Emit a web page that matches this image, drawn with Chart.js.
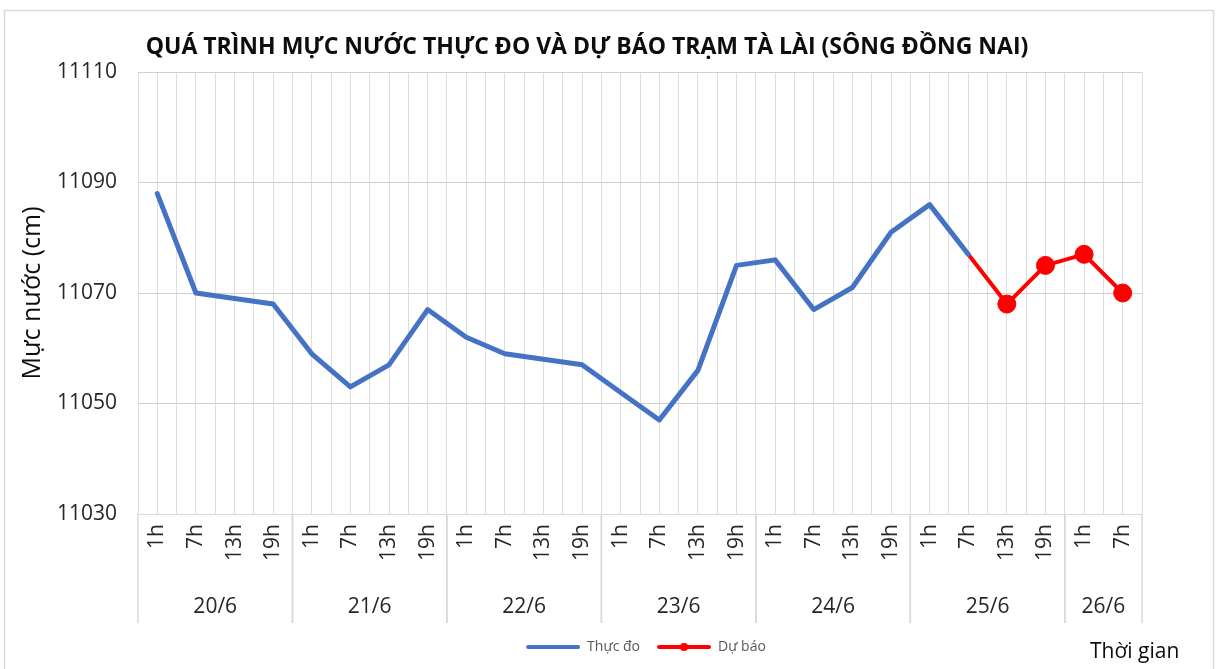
<!DOCTYPE html>
<html>
<head>
<meta charset="utf-8">
<script src="https://cdn.jsdelivr.net/npm/chart.js@4.4.0/dist/chart.umd.min.js"></script>
<style>
  html, body { margin: 0; padding: 0; background: #fff; }
</style>
</head>
<body>
<canvas id="chart" width="1217" height="669"></canvas>
<script>
const hours = ['1h', '7h', '13h', '19h', '1h', '7h', '13h', '19h', '1h', '7h', '13h', '19h',
    '1h', '7h', '13h', '19h', '1h', '7h', '13h', '19h', '1h', '7h', '13h', '19h', '1h', '7h'];
const days = ['20/6', '21/6', '22/6', '23/6', '24/6', '25/6', '26/6'];
const dayCounts = [4, 4, 4, 4, 4, 4, 2];
const measured = [11088, 11070, 11069, 11068, 11059, 11053, 11057, 11067, 11062, 11059, 11058, 11057,
    11052, 11047, 11056, 11075, 11076, 11067, 11071, 11081, 11086, 11077, null, null, null, null];
const forecast = [null, null, null, null, null, null, null, null, null, null, null, null,
    null, null, null, null, null, null, null, null, null, 11077, 11068, 11075, 11077, 11070];
const yMin = 11030, yMax = 11110, yStep = 20;

const FONT = '"Open Sans", sans-serif';
const TEXT = '#262626';
const forecastStart = forecast.findIndex(v => v !== null);

// legend sample: line (with a dot for the forecast), blank space on the left as item gap
const ICON_W = 66;
const legendIcon = (color, dot) => {
    const c = document.createElement('canvas');
    c.width = ICON_W; c.height = 12;
    const g = c.getContext('2d');
    const x0 = ICON_W - 54;
    g.strokeStyle = color; g.lineWidth = 4; g.lineCap = 'round';
    g.beginPath(); g.moveTo(x0 + 2, 6); g.lineTo(x0 + 52, 6); g.stroke();
    if (dot) { g.fillStyle = color; g.beginPath(); g.arc(x0 + 27, 6, 4, 0, Math.PI * 2); g.fill(); }
    return c;
};
const icons = [legendIcon('#4472C4', false), legendIcon('#FF0000', true)];

// frame, title, day groups under the hour labels, axis caption
const decor = {
    id: 'decor',
    beforeDraw(chart) {
        const { ctx, width, height } = chart;
        ctx.save();
        ctx.fillStyle = '#fff';
        ctx.fillRect(0, 0, width, height);
        ctx.strokeStyle = '#d9d9d9';
        ctx.lineWidth = 1.5;
        ctx.strokeRect(4.5, 10.5, 1209, height);
        ctx.restore();
    },
    afterDraw(chart) {
        const { ctx, chartArea, scales: { x } } = chart;
        const step = x.width / hours.length;
        const bottom = chartArea.bottom + 109;
        ctx.save();
        ctx.strokeStyle = '#d9d9d9';
        ctx.lineWidth = 1.5;
        ctx.fillStyle = TEXT;
        ctx.font = '21px ' + FONT;
        ctx.textAlign = 'center';
        ctx.textBaseline = 'middle';
        let start = 0;
        days.forEach((d, i) => {
            const left = x.getPixelForValue(start) - step / 2;
            const right = x.getPixelForValue(start + dayCounts[i] - 1) + step / 2;
            ctx.beginPath();
            ctx.moveTo(left, chartArea.bottom); ctx.lineTo(left, bottom);
            ctx.moveTo(right, chartArea.bottom); ctx.lineTo(right, bottom);
            ctx.stroke();
            ctx.fillText(d, (left + right) / 2, chartArea.bottom + 93);
            start += dayCounts[i];
        });

        ctx.fillStyle = '#0d0d0d';
        ctx.font = 'bold 23px ' + FONT;
        ctx.fillText('QUÁ TRÌNH MỰC NƯỚC THỰC ĐO VÀ DỰ BÁO TRẠM TÀ LÀI (SÔNG ĐỒNG NAI)', 587, 47);

        ctx.font = '21px ' + FONT;
        ctx.textAlign = 'left';
        ctx.fillText('Thời gian', 1090, 652);
        ctx.restore();
    }
};

new Chart(document.getElementById('chart'), {
    type: 'line',
    data: {
        labels: hours,
        datasets: [
            {
                label: 'Thực đo', data: measured,
                borderColor: '#4472C4', backgroundColor: '#4472C4', borderWidth: 5,
                pointRadius: 0, borderJoinStyle: 'round', borderCapStyle: 'round'
            },
            {
                label: 'Dự báo', data: forecast,
                borderColor: '#FF0000', backgroundColor: '#FF0000', borderWidth: 4,
                pointRadius: ctx => ctx.dataIndex === forecastStart ? 0 : 9,
                pointBorderWidth: 1, borderJoinStyle: 'round', borderCapStyle: 'round'
            }
        ]
    },
    options: {
        responsive: false,
        animation: false,
        layout: { padding: { left: 0, right: 75, top: 72, bottom: 5 } },
        scales: {
            x: {
                offset: true,
                grid: { offset: true, color: '#dedede', drawTicks: false },
                border: { color: '#d9d9d9' },
                ticks: { autoSkip: false, maxRotation: 90, minRotation: 90, padding: 10, color: TEXT, font: { size: 21, family: FONT } },
                afterFit: s => { s.height = 121; }
            },
            x2: {
                type: 'category', labels: hours, offset: true, position: 'bottom',
                grid: { offset: false, color: '#dedede', drawTicks: false },
                border: { display: false },
                ticks: { display: false },
                afterFit: s => { s.height = 0; }
            },
            y: {
                min: yMin, max: yMax,
                ticks: { stepSize: yStep, padding: 21, color: TEXT, font: { size: 21, family: FONT }, callback: v => String(v) },
                grid: { color: '#d0d0d0', drawTicks: false },
                border: { display: false },
                title: { display: true, text: 'Mực nước (cm)', color: '#0d0d0d', font: { size: 25, family: FONT }, padding: { top: 18, bottom: 0 } },
                afterFit: s => { s.width = 138; }
            }
        },
        plugins: {
            title: { display: false },
            tooltip: { enabled: false },
            legend: {
                position: 'bottom',
                fullSize: false,
                labels: {
                    usePointStyle: true, pointStyleWidth: ICON_W, padding: 5,
                    color: '#595959', font: { size: 14, family: FONT },
                    generateLabels(chart) {
                        const items = Chart.defaults.plugins.legend.labels.generateLabels(chart);
                        items.forEach((it, i) => { it.pointStyle = icons[i]; });
                        return items;
                    }
                }
            }
        }
    },
    plugins: [decor]
});
</script>
</body>
</html>
